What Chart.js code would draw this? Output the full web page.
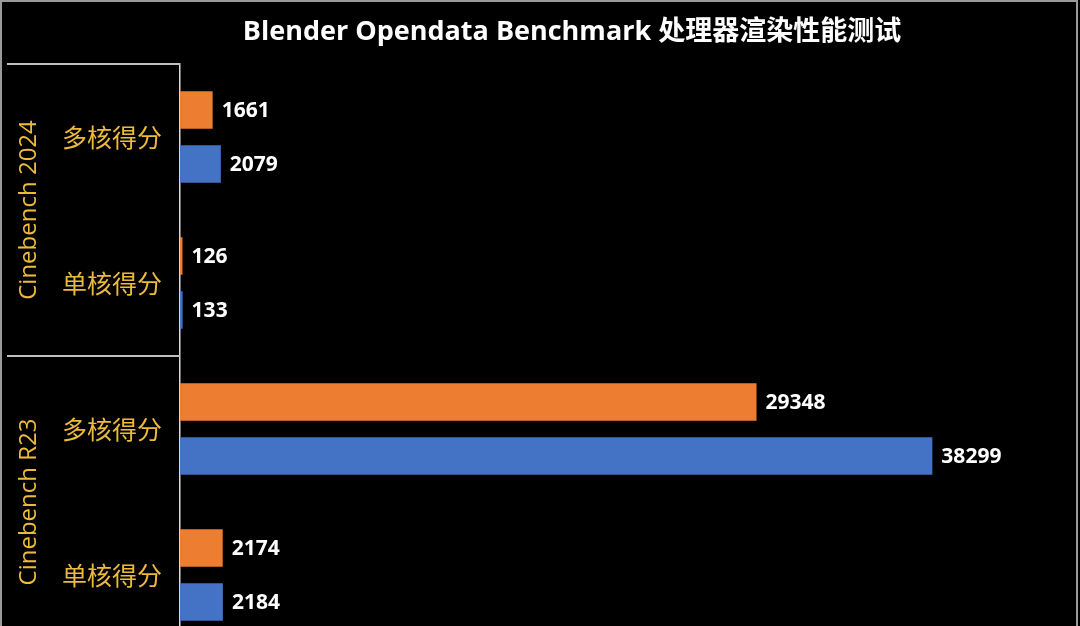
<!DOCTYPE html>
<html>
<head>
<meta charset="utf-8">
<script src="https://cdn.jsdelivr.net/npm/chart.js@4.4.1/dist/chart.umd.min.js"></script>
<style>
  html, body { margin: 0; padding: 0; background: #000; }
  #wrap { width: 1080px; height: 626px; overflow: hidden; position: relative; background: #000; }
  canvas { display: block; }
</style>
</head>
<body>
<div id="wrap"><canvas id="c" width="1080" height="684" style="width:1080px;height:684px"></canvas></div>
<script>
const titleText = 'Blender Opendata Benchmark 处理器渲染性能测试';
const categories = ['多核得分', '单核得分', '多核得分', '单核得分'];
const groupNames = ['Cinebench 2024', 'Cinebench R23'];
const groupSizes = [2, 2];
const seriesNames = ['处理器 A', '处理器 B'];
const seriesA = [1661, 126, 29348, 2174];
const seriesB = [2079, 133, 38299, 2184];

const GOLD = '#EDBB3C';
const LINE = '#BFBFBF';

const decorPlugin = {
  id: 'decor',
  afterDraw(chart) {
    const ctx = chart.ctx;
    const y = chart.scales.y;
    const area = chart.chartArea;
    ctx.save();
    // outer frame
    ctx.strokeStyle = '#9a9a9a';
    ctx.lineWidth = 2;
    ctx.beginPath();
    ctx.moveTo(1, chart.height); ctx.lineTo(1, 1); ctx.lineTo(chart.width - 3, 1); ctx.lineTo(chart.width - 3, chart.height);
    ctx.stroke();
    // title
    ctx.fillStyle = '#FFFFFF';
    ctx.font = 'bold 27px "Open Sans", "Noto Sans CJK SC", sans-serif';
    ctx.textAlign = 'center';
    ctx.textBaseline = 'middle';
    ctx.fillText(titleText, 572, 32);
    // group separators
    ctx.strokeStyle = LINE;
    ctx.lineWidth = 2;
    const bounds = [area.top];
    let idx = 0;
    for (let g = 0; g < groupSizes.length; g++) {
      idx += groupSizes[g];
      if (idx < categories.length) {
        bounds.push((y.getPixelForTick(idx - 1) + y.getPixelForTick(idx)) / 2);
      } else {
        bounds.push(area.bottom);
      }
    }
    bounds.forEach(b => {
      ctx.beginPath();
      ctx.moveTo(7, b); ctx.lineTo(area.left, b);
      ctx.stroke();
    });
    // group labels (rotated)
    ctx.fillStyle = GOLD;
    ctx.font = '24px "Open Sans", "Noto Sans", sans-serif';
    for (let g = 0; g < groupNames.length; g++) {
      const cy = (bounds[g] + bounds[g + 1]) / 2;
      ctx.save();
      ctx.translate(29, cy);
      ctx.rotate(-Math.PI / 2);
      ctx.fillText(groupNames[g], 0, 0);
      ctx.restore();
    }
    // value labels
    ctx.fillStyle = '#FFFFFF';
    ctx.font = 'bold 21px "Open Sans", sans-serif';
    ctx.textAlign = 'left';
    chart.data.datasets.forEach((ds, di) => {
      const meta = chart.getDatasetMeta(di);
      meta.data.forEach((bar, i) => {
        ctx.fillText(String(ds.data[i]), bar.x + 9, bar.y + 1);
      });
    });
    ctx.restore();
  }
};

new Chart(document.getElementById('c'), {
  type: 'bar',
  data: {
    labels: categories,
    datasets: [
      { label: seriesNames[0], data: seriesA, backgroundColor: '#ED7D31', categoryPercentage: 0.74, barPercentage: 0.694 },
      { label: seriesNames[1], data: seriesB, backgroundColor: '#4472C4', categoryPercentage: 0.74, barPercentage: 0.694 }
    ]
  },
  options: {
    indexAxis: 'y',
    responsive: false,
    maintainAspectRatio: false,
    animation: false,
    layout: { padding: { left: 0, right: 16, top: 64, bottom: 36 } },
    plugins: {
      legend: { display: false },
      tooltip: { enabled: false },
      title: { display: false }
    },
    scales: {
      x: { display: false, min: 0, max: 45000 },
      y: {
        afterFit(scale) { scale.width = 180; },
        grid: { display: false, drawTicks: false },
        border: { display: true, color: '#D9D9D9', width: 1.5 },
        ticks: {
          color: GOLD,
          padding: 18,
          font: { family: '"Noto Sans CJK SC", sans-serif', size: 25 }
        }
      }
    }
  },
  plugins: [decorPlugin]
});
</script>
</body>
</html>
